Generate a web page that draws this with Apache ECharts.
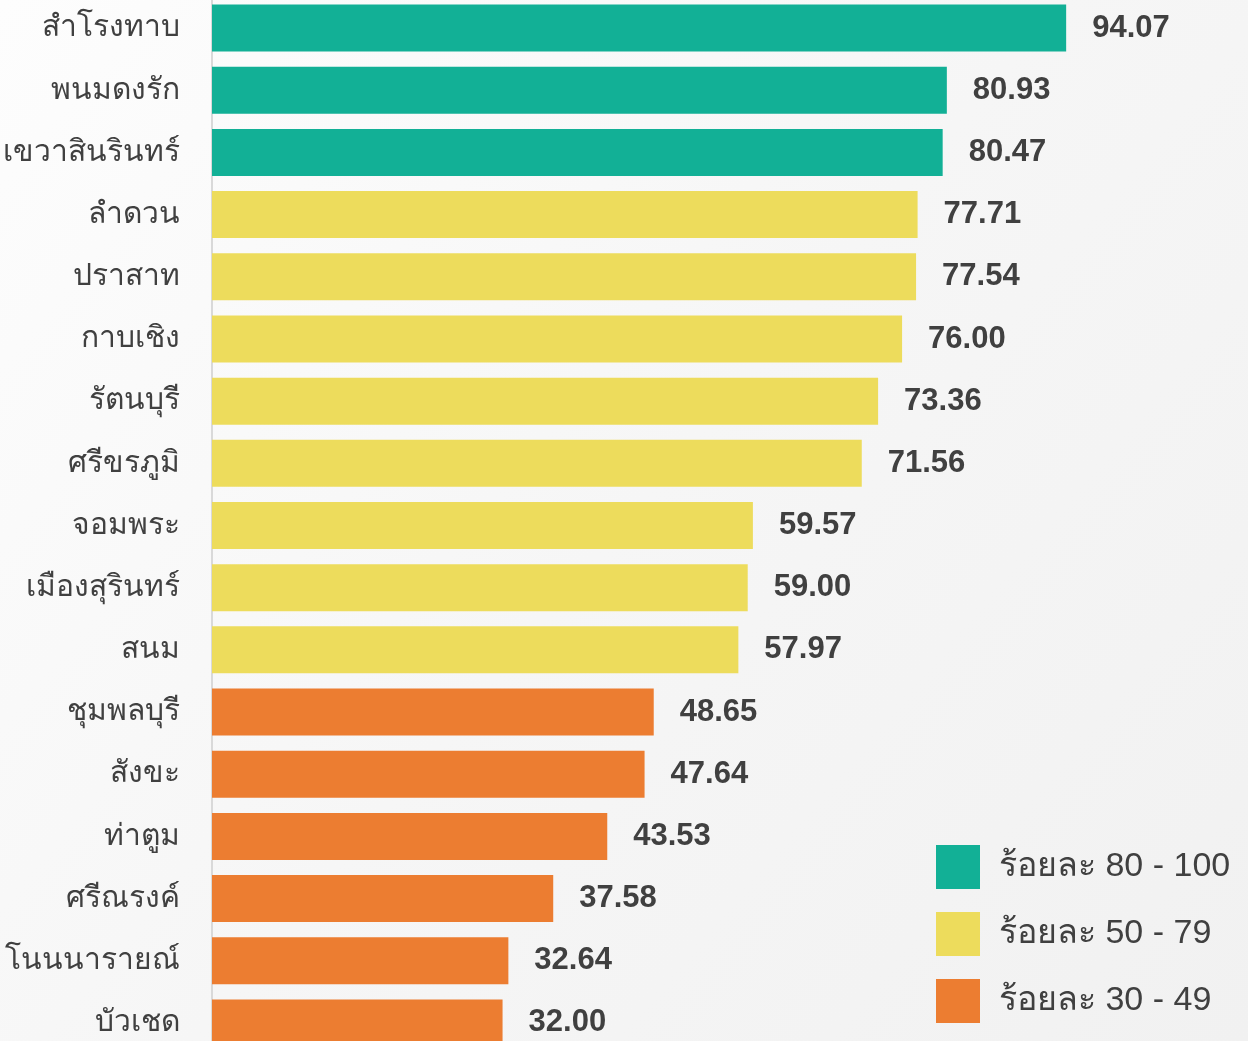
<!DOCTYPE html>
<html>
	<head>
		<meta charset="UTF-8">
		<title></title>
		<script src="https://cdn.jsdelivr.net/npm/echarts@6/dist/echarts.min.js"></script>
		<style type="text/css">
			html, body { margin: 0; padding: 0; }
		</style>
	</head>
	<body>
		<div id="box" style="width:1248px;height:1041px;"></div>

		<script type="text/javascript">
			var categories = ['สำโรงทาบ', 'พนมดงรัก', 'เขวาสินรินทร์', 'ลำดวน', 'ปราสาท', 'กาบเชิง', 'รัตนบุรี', 'ศรีขรภูมิ', 'จอมพระ', 'เมืองสุรินทร์', 'สนม', 'ชุมพลบุรี', 'สังขะ', 'ท่าตูม', 'ศรีณรงค์', 'โนนนารายณ์', 'บัวเชด'];
			var values = [94.07, 80.93, 80.47, 77.71, 77.54, 76.00, 73.36, 71.56, 59.57, 59.00, 57.97, 48.65, 47.64, 43.53, 37.58, 32.64, 32.00];
			var groupNames = ['ร้อยละ 80 - 100', 'ร้อยละ 50 - 79', 'ร้อยละ 30 - 49'];
			var groupMin = [80, 50, 0];
			var groupColors = ['#12B096', '#EDDC5C', '#EC7D31'];

			var myChart = echarts.init(document.getElementById('box'));

			// which colour band a value falls into
			function groupOf(v) {
				for (var g = 0; g < groupMin.length; g++) {
					if (v >= groupMin[g]) return g;
				}
				return groupMin.length - 1;
			}

			var series = groupNames.map(function (name, g) {
				return {
					name: name,
					type: 'bar',
					stack: 'all',
					barWidth: 47,
					itemStyle: { color: groupColors[g] },
					label: {
						show: true,
						position: 'right',
						distance: 26,
						color: '#404040',
						fontSize: 31,
						fontWeight: 'bold',
						fontFamily: 'Liberation Sans, Arial, sans-serif',
						padding: [5, 0, 0, 0],
						formatter: function (p) { return p.value.toFixed(2); }
					},
					data: values.map(function (v) { return groupOf(v) === g ? v : '-'; })
				};
			});

			var option = {
				backgroundColor: {
					type: 'linear', x: 0, y: 0, x2: 1, y2: 1,
					colorStops: [
						{ offset: 0, color: '#fdfdfd' },
						{ offset: 0.5, color: '#f6f6f6' },
						{ offset: 1, color: '#f1f1f1' }
					]
				},
				animation: false,
				grid: { left: 212, top: -3, width: 908, height: 1057, outerBoundsMode: 'none' },
				legend: {
					orient: 'vertical',
					left: 931,
					top: 840,
					itemWidth: 44,
					itemHeight: 44,
					itemGap: 23,
					icon: 'rect',
					textStyle: { fontSize: 34, color: '#404040', padding: [0, 0, 0, 14] },
					data: groupNames
				},
				xAxis: {
					type: 'value',
					min: 0,
					max: 100,
					show: false
				},
				yAxis: {
					type: 'category',
					inverse: true,
					data: categories,
					axisLine: { show: true, lineStyle: { color: '#d9d9d9', width: 2 } },
					axisTick: { show: false },
					axisLabel: { margin: 32, fontSize: 30, color: '#404040', padding: [5, 0, 0, 0] }
				},
				series: series
			};
			myChart.setOption(option);
		</script>
	</body>
</html>
